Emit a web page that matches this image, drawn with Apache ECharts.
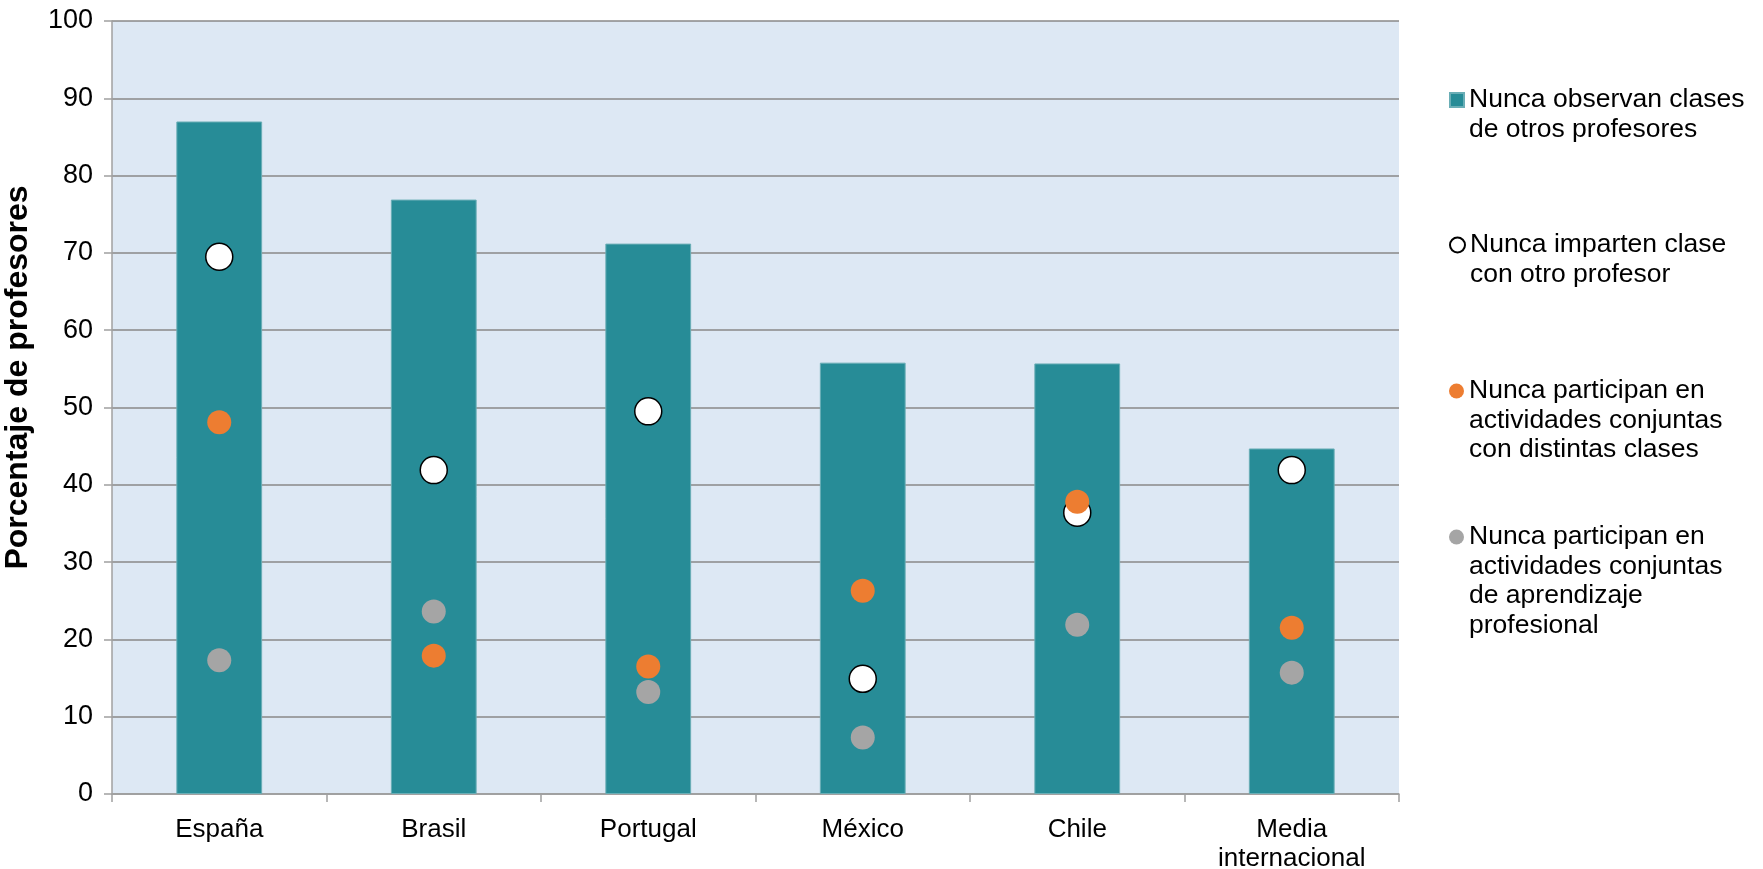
<!DOCTYPE html>
<html>
<head>
<meta charset="utf-8">
<script src="https://cdn.jsdelivr.net/npm/echarts@6/dist/echarts.min.js"></script>
<style>
  html, body { margin: 0; padding: 0; background: #ffffff; }
  #chart { width: 1763px; height: 869px; }
</style>
</head>
<body>
<div id="chart"></div>
<script>
const categories = ['España', 'Brasil', 'Portugal', 'México', 'Chile', 'Media\ninternacional'];
const observanValues = [87.0, 76.9, 71.2, 55.8, 55.7, 44.7];
const impartenValues = [69.5, 41.9, 49.5, 14.9, 36.4, 41.9];
const actividadesClasesValues = [48.1, 17.9, 16.5, 26.3, 37.8, 21.5];
const aprendizajeValues = [17.3, 23.6, 13.2, 7.3, 21.9, 15.7];
const yTicks = { min: 0, max: 100, interval: 10 };
const seriesNames = [
  'Nunca observan clases\nde otros profesores',
  'Nunca imparten clase\ncon otro profesor',
  'Nunca participan en\nactividades conjuntas\ncon distintas clases',
  'Nunca participan en\nactividades conjuntas\nde aprendizaje\nprofesional'
];
const yAxisTitle = 'Porcentaje de profesores';

const FONT = 'Liberation Sans, Arial, sans-serif';
const TEAL = '#278C97';
const ORANGE = '#ED7D31';
const GRAY = '#A5A5A5';
const LH = 29.5;

const legendFirstLineY = [100, 245, 391, 537];
const legendIcons = ['rect', 'circle', 'circle', 'circle'];
const legends = seriesNames.map(function (name, i) {
  const n = name.split('\n').length;
  const pre = new Array(n).join('\n'); // n-1 empty lines so the first line sits on the icon
  return {
    data: [{ name: name, icon: legendIcons[i] }],
    left: 1449,
    top: legendFirstLineY[i] - (2 * n - 1) * LH / 2,
    orient: 'vertical',
    padding: 0,
    itemWidth: i === 0 ? 14 : 15,
    itemHeight: i === 0 ? 14 : 15,
    itemGap: 0,
    selectedMode: false,
    formatter: function (nm) { return pre + nm; },
    textStyle: {
      fontFamily: FONT,
      fontSize: 26.5,
      color: '#000000',
      lineHeight: LH
    }
  };
});

const chart = echarts.init(document.getElementById('chart'), null, { renderer: 'canvas' });
chart.setOption({
  animation: false,
  backgroundColor: '#ffffff',
  legend: legends,
  grid: {
    left: 112, right: 364, top: 21, bottom: 75,
    show: true, backgroundColor: '#DDE8F4', borderWidth: 0,
    containLabel: false,
    outerBoundsMode: 'none'
  },
  xAxis: {
    type: 'category',
    data: categories,
    boundaryGap: true,
    axisLine: { show: true, lineStyle: { color: '#A0A0A0', width: 1.5 } },
    axisTick: { show: true, length: 8, lineStyle: { color: '#A0A0A0', width: 1.5 } },
    axisLabel: {
      fontFamily: FONT, fontSize: 26, color: '#000000',
      lineHeight: LH, margin: 21, interval: 0
    },
    splitLine: { show: false }
  },
  yAxis: {
    type: 'value',
    min: yTicks.min, max: yTicks.max, interval: yTicks.interval,
    name: yAxisTitle,
    nameLocation: 'middle',
    nameRotate: 90,
    nameGap: 78,
    nameTextStyle: {
      fontFamily: FONT, fontSize: 32, fontWeight: 'bold', color: '#000000',
      padding: [0, 0, 0, 60]
    },
    axisLine: { show: true, lineStyle: { color: '#A0A0A0', width: 1.5 } },
    axisTick: { show: true, length: 8, lineStyle: { color: '#A0A0A0', width: 1.5 } },
    axisLabel: { fontFamily: FONT, fontSize: 27, color: '#000000', margin: 19 },
    splitLine: { show: true, lineStyle: { color: '#888888', width: 1.5 } }
  },
  series: [
    {
      name: seriesNames[0],
      type: 'bar',
      data: observanValues,
      barWidth: '40%',
      itemStyle: { color: TEAL, borderColor: '#6AAEB6', borderWidth: 1 },
      z: 2
    },
    {
      name: seriesNames[1],
      type: 'scatter',
      data: impartenValues,
      symbol: 'circle',
      symbolSize: 27,
      itemStyle: { color: '#FFFFFF', borderColor: '#000000', borderWidth: 1.5, opacity: 1 },
      z: 3
    },
    {
      name: seriesNames[2],
      type: 'scatter',
      data: actividadesClasesValues,
      symbol: 'circle',
      symbolSize: 24,
      itemStyle: { color: ORANGE, opacity: 1 },
      z: 4
    },
    {
      name: seriesNames[3],
      type: 'scatter',
      data: aprendizajeValues,
      symbol: 'circle',
      symbolSize: 24,
      itemStyle: { color: GRAY, opacity: 1 },
      z: 4
    }
  ]
});
</script>
</body>
</html>
